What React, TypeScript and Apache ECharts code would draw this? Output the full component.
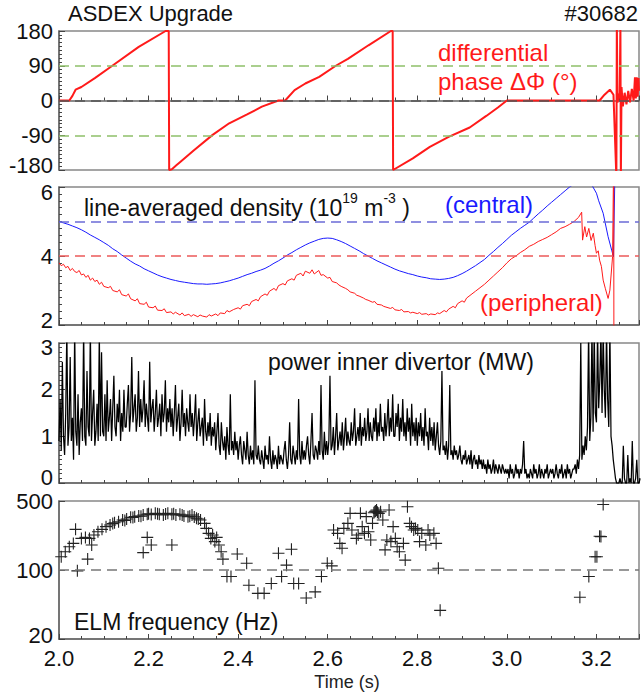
import React, { useEffect, useRef } from "react";
import * as echarts from "echarts";

const FONT = "'Liberation Sans', Arial, Helvetica, sans-serif";
const X_MIN = 2.0;
const X_MAX = 3.295;
const X_LABELS_INTERVAL = 0.2;

// Panel 1: differential phase (deg) vs time (s)
const phaseData: [number, number][] = [
  [2.0, 0], [2.023, 0], [2.03, 12], [2.037, 28], [2.05, 35], [2.08, 58], [2.119, 90], [2.178, 139],
  [2.238, 180], [2.245, 180], [2.246, -180], [2.252, -178], [2.262, -168], [2.27, -160], [2.3, -130],
  [2.343, -89], [2.38, -59], [2.42, -36], [2.453, -16], [2.49, 0], [2.505, 0], [2.526, 27], [2.55, 44],
  [2.581, 61], [2.618, 90], [2.645, 108], [2.691, 143], [2.741, 180], [2.745, 180], [2.746, -180],
  [2.79, -150], [2.828, -120], [2.87, -94], [2.917, -70], [2.954, -40], [2.98, -18], [3.0, 0],
  [3.207, 0], [3.218, 15], [3.23, 28], [3.238, 15], [3.2445, -200], [3.2455, 200], [3.247, -5],
  [3.252, 20], [3.2535, 200], [3.2545, -200], [3.256, 35], [3.259, -15], [3.263, 20], [3.267, -10],
  [3.271, 25], [3.275, -5], [3.279, 30], [3.283, 0], [3.286, 60], [3.288, 5], [3.290, 60],
  [3.292, 10], [3.294, 58], [3.295, 25],
];

// Panel 2: line-averaged density (1e19 m^-3)
const densityCentral: [number, number][] = [
  [2.0, 5.0], [2.01, 4.96], [2.02, 4.92], [2.03, 4.87], [2.04, 4.82], [2.05, 4.76], [2.06, 4.69], [2.07, 4.61],
  [2.08, 4.54], [2.09, 4.47], [2.1, 4.39], [2.11, 4.31], [2.12, 4.21], [2.13, 4.13], [2.14, 4.03], [2.15, 3.94],
  [2.16, 3.85], [2.17, 3.77], [2.18, 3.71], [2.19, 3.63], [2.2, 3.57], [2.21, 3.51], [2.22, 3.45], [2.23, 3.4],
  [2.24, 3.36], [2.25, 3.32], [2.26, 3.29], [2.27, 3.26], [2.28, 3.24], [2.29, 3.22], [2.3, 3.2], [2.31, 3.19],
  [2.32, 3.19], [2.33, 3.18], [2.34, 3.19], [2.35, 3.2], [2.36, 3.22], [2.37, 3.25], [2.38, 3.28], [2.39, 3.32],
  [2.4, 3.36], [2.41, 3.41], [2.42, 3.46], [2.43, 3.5], [2.44, 3.55], [2.45, 3.59], [2.46, 3.64], [2.47, 3.71],
  [2.48, 3.79], [2.49, 3.86], [2.5, 3.94], [2.51, 4.03], [2.52, 4.1], [2.53, 4.18], [2.54, 4.25], [2.55, 4.32],
  [2.56, 4.38], [2.57, 4.43], [2.58, 4.48], [2.59, 4.51], [2.6, 4.52], [2.61, 4.51], [2.62, 4.47], [2.63, 4.42],
  [2.64, 4.36], [2.65, 4.29], [2.66, 4.22], [2.67, 4.15], [2.68, 4.07], [2.69, 4.0], [2.7, 3.93], [2.71, 3.86],
  [2.72, 3.8], [2.73, 3.74], [2.74, 3.68], [2.75, 3.62], [2.76, 3.57], [2.77, 3.53], [2.78, 3.49], [2.79, 3.46],
  [2.8, 3.42], [2.81, 3.39], [2.82, 3.37], [2.83, 3.34], [2.84, 3.33], [2.85, 3.32], [2.86, 3.33], [2.87, 3.35],
  [2.88, 3.38], [2.89, 3.43], [2.9, 3.49], [2.91, 3.56], [2.92, 3.64], [2.93, 3.72], [2.94, 3.81], [2.95, 3.9],
  [2.96, 4.02], [2.97, 4.13], [2.98, 4.25], [2.99, 4.36], [3.0, 4.48], [3.01, 4.6], [3.02, 4.7], [3.03, 4.8],
  [3.04, 4.89], [3.05, 4.98], [3.06, 5.1], [3.07, 5.22], [3.08, 5.33], [3.09, 5.45], [3.1, 5.56], [3.11, 5.67],
  [3.12, 5.78], [3.13, 5.89], [3.14, 6.0], [3.15, 6.08], [3.16, 6.12], [3.17, 6.14], [3.18, 6.12], [3.19, 6.05],
  [3.2, 5.82], [3.205, 5.6], [3.215, 5.24], [3.226, 4.56], [3.234, 4.17], [3.238, 3.98], [3.242, 7.0],
];

const densityPeripheral: [number, number][] = [
  [2.0, 3.8], [2.005, 3.72], [2.01, 3.76], [2.015, 3.66], [2.02, 3.7], [2.025, 3.58], [2.03, 3.64], [2.035, 3.55],
  [2.04, 3.52], [2.045, 3.58], [2.05, 3.45], [2.055, 3.48], [2.06, 3.38], [2.065, 3.44], [2.07, 3.3], [2.075, 3.36],
  [2.08, 3.26], [2.085, 3.3], [2.09, 3.18], [2.095, 3.24], [2.1, 3.12], [2.11, 3.08], [2.115, 3.12], [2.12, 3.0],
  [2.13, 2.96], [2.135, 3.02], [2.14, 2.88], [2.15, 2.84], [2.155, 2.9], [2.16, 2.76], [2.17, 2.7], [2.175, 2.76],
  [2.18, 2.62], [2.19, 2.6], [2.195, 2.66], [2.2, 2.52], [2.21, 2.5], [2.215, 2.55], [2.22, 2.43], [2.23, 2.42],
  [2.235, 2.47], [2.24, 2.36], [2.25, 2.38], [2.255, 2.32], [2.26, 2.37], [2.27, 2.29], [2.275, 2.35], [2.28, 2.27],
  [2.29, 2.31], [2.295, 2.25], [2.3, 2.3], [2.31, 2.24], [2.315, 2.29], [2.32, 2.26], [2.33, 2.23], [2.335, 2.3],
  [2.34, 2.26], [2.35, 2.32], [2.355, 2.27], [2.36, 2.35], [2.37, 2.33], [2.375, 2.42], [2.38, 2.38], [2.39, 2.45],
  [2.4, 2.5], [2.405, 2.46], [2.41, 2.56], [2.42, 2.6], [2.425, 2.56], [2.43, 2.68], [2.44, 2.74], [2.445, 2.7],
  [2.45, 2.82], [2.46, 2.9], [2.465, 2.86], [2.47, 2.98], [2.48, 3.06], [2.485, 3.0], [2.49, 3.14], [2.5, 3.2],
  [2.505, 3.16], [2.51, 3.28], [2.52, 3.34], [2.525, 3.3], [2.53, 3.44], [2.54, 3.5], [2.545, 3.42], [2.55, 3.56],
  [2.56, 3.5], [2.565, 3.6], [2.57, 3.48], [2.58, 3.58], [2.585, 3.44], [2.59, 3.46], [2.6, 3.36], [2.605, 3.38],
  [2.61, 3.26], [2.62, 3.22], [2.625, 3.16], [2.63, 3.12], [2.64, 3.06], [2.645, 3.02], [2.65, 2.96], [2.66, 2.92],
  [2.665, 2.86], [2.67, 2.84], [2.68, 2.78], [2.685, 2.74], [2.69, 2.72], [2.7, 2.66], [2.705, 2.68], [2.71, 2.6],
  [2.72, 2.58], [2.725, 2.54], [2.73, 2.52], [2.74, 2.48], [2.745, 2.51], [2.75, 2.44], [2.76, 2.42], [2.765, 2.45],
  [2.77, 2.38], [2.78, 2.39], [2.785, 2.35], [2.79, 2.37], [2.8, 2.33], [2.805, 2.36], [2.81, 2.31], [2.82, 2.33],
  [2.825, 2.29], [2.83, 2.32], [2.84, 2.3], [2.845, 2.35], [2.85, 2.33], [2.86, 2.42], [2.865, 2.38], [2.87, 2.46],
  [2.88, 2.54], [2.885, 2.5], [2.89, 2.62], [2.9, 2.7], [2.905, 2.66], [2.91, 2.78], [2.92, 2.88], [2.93, 2.98],
  [2.94, 3.08], [2.95, 3.18], [2.96, 3.3], [2.97, 3.42], [2.98, 3.54], [2.99, 3.66], [3.0, 3.8], [3.01, 3.92],
  [3.02, 4.0], [3.03, 4.1], [3.04, 4.18], [3.05, 4.28], [3.06, 4.34], [3.07, 4.42], [3.08, 4.48], [3.09, 4.54],
  [3.1, 4.62], [3.11, 4.7], [3.12, 4.8], [3.13, 4.85], [3.14, 4.92], [3.15, 5.0], [3.16, 5.12], [3.167, 5.27],
  [3.169, 4.46], [3.174, 4.85], [3.178, 4.55], [3.183, 4.8], [3.188, 4.45], [3.193, 4.66], [3.197, 4.3],
  [3.2, 4.08], [3.204, 4.15], [3.207, 3.88], [3.211, 3.7], [3.215, 3.3], [3.22, 3.05], [3.226, 2.77],
  [3.23, 3.01], [3.236, 3.98], [3.2385, 7.0], [3.239, 1.0],
];

// Panel 3: power to inner divertor (MW), sampled every 2.5 ms from 2.000 s
const powerStart = 2.0;
const powerStep = 0.0025;
const powerValues: number[] = [
  0.9, 1.8, 0.7, 2.6, 1.0, 0.6, 1.5, 3.3, 0.8, 1.2, 2.7, 0.9, 1.4, 0.5, 3.3, 1.1, 0.8, 1.9, 0.6, 1.3,
  1.6, 0.9, 3.3, 1.0, 0.8, 2.4, 1.2, 1.0, 3.3, 0.9, 1.5, 2.0, 0.8, 1.1, 1.7, 0.9, 3.2, 1.0, 2.8, 1.1,
  1.0, 1.9, 0.9, 2.2, 1.1, 1.4, 1.8, 0.9, 1.6, 2.3, 1.2, 1.0, 1.7, 1.3, 2.0, 0.9, 1.5, 1.1, 2.0, 1.2,
  1.2, 1.7, 2.1, 1.1, 1.5, 2.7, 1.3, 1.6, 1.9, 1.1, 1.4, 2.4, 1.2, 1.8, 1.3, 1.6, 2.2, 1.2, 1.7, 1.4,
  1.1, 2.6, 1.3, 1.6, 1.8, 1.1, 1.5, 2.0, 1.2, 1.4, 1.7, 1.0, 1.9, 1.3, 1.5, 2.2, 1.1, 1.6, 1.3, 1.8,
  1.2, 1.6, 1.0, 1.5, 2.1, 1.1, 1.4, 1.7, 0.9, 1.3, 2.0, 1.2, 1.5, 1.0, 1.6, 1.3, 1.1, 1.9, 1.2, 1.5,
  1.0, 1.4, 1.9, 0.9, 1.3, 1.6, 1.0, 1.2, 1.4, 0.8, 1.8, 1.1, 0.9, 1.3, 1.0, 1.5, 0.8, 1.2, 1.0, 1.3,
  0.7, 1.1, 1.5, 0.8, 0.6, 1.3, 0.9, 0.7, 1.0, 0.5, 1.2, 0.8, 0.6, 1.9, 0.7, 0.9, 0.6, 1.1, 0.7, 0.9,
  0.5, 0.8, 1.0, 0.6, 0.4, 0.9, 0.7, 0.5, 1.1, 0.6, 0.4, 0.8, 0.5, 0.7, 0.4, 2.2, 0.6, 0.5, 0.8, 0.5,
  0.4, 0.7, 0.5, 0.3, 0.8, 0.5, 0.6, 0.4, 1.0, 0.5, 0.3, 0.7, 0.4, 0.6, 0.5, 0.3, 0.8, 0.4, 0.6, 0.5,
  0.4, 0.7, 0.9, 0.5, 0.3, 0.6, 1.3, 0.5, 0.4, 0.8, 0.6, 0.4, 0.7, 0.5, 1.8, 0.6, 0.4, 0.9, 0.5, 0.7,
  0.5, 0.8, 1.0, 0.6, 0.4, 0.9, 1.5, 0.6, 0.5, 0.8, 0.7, 0.5, 0.9, 0.6, 2.1, 0.7, 0.5, 1.1, 0.6, 0.9,
  0.6, 0.9, 2.3, 0.7, 0.8, 1.2, 0.6, 1.0, 1.5, 0.7, 0.9, 1.1, 0.8, 1.3, 0.7, 1.0, 1.4, 0.8, 1.1, 0.9,
  0.8, 1.3, 0.9, 1.1, 1.6, 0.8, 1.0, 1.2, 0.9, 1.5, 0.8, 1.2, 1.0, 1.4, 0.9, 1.1, 1.6, 0.9, 1.3, 1.0,
  0.9, 1.4, 1.1, 1.6, 0.9, 1.3, 1.0, 1.7, 1.1, 1.2, 0.9, 1.5, 1.0, 1.3, 1.8, 1.0, 1.4, 1.1, 1.9, 1.0,
  1.0, 1.5, 1.2, 1.7, 0.9, 1.4, 1.1, 1.8, 1.0, 1.3, 0.9, 1.6, 1.1, 1.4, 0.8, 1.7, 1.0, 1.3, 0.9, 1.4,
  0.8, 1.3, 1.0, 1.5, 0.9, 1.2, 0.8, 1.6, 1.0, 1.1, 0.7, 1.4, 0.9, 1.2, 0.8, 1.3, 0.7, 1.0, 1.3, 0.8,
  0.6, 0.9, 2.4, 0.7, 0.8, 0.6, 0.9, 0.5, 0.8, 2.1, 0.6, 0.7, 0.5, 0.8, 0.6, 0.7, 0.5, 0.6, 0.8, 0.5,
  0.4, 0.6, 0.5, 0.7, 0.4, 0.5, 0.6, 0.4, 0.7, 0.3, 0.5, 0.6, 0.4, 0.5, 0.3, 0.6, 0.4, 0.5, 0.3, 0.5,
  0.3, 0.4, 0.2, 0.5, 0.3, 0.4, 0.2, 0.3, 0.5, 0.2, 0.4, 0.3, 0.2, 0.4, 0.3, 0.2, 0.4, 0.3, 0.2, 0.3,
  0.2, 0.3, 0.1, 0.4, 0.2, 0.3, 0.1, 0.2, 0.4, 0.2, 0.3, 0.1, 0.3, 0.2, 0.4, 0.9, 0.2, 0.3, 0.1, 0.2,
  0.1, 0.3, 0.2, 0.1, 0.4, 0.2, 0.3, 0.1, 0.2, 0.4, 0.1, 0.3, 0.2, 0.1, 0.3, 0.2, 0.4, 0.1, 0.2, 0.3,
  0.2, 0.3, 0.1, 0.2, 0.4, 0.2, 0.1, 0.3, 0.2, 0.4, 0.1, 0.2, 0.3, 0.1, 0.4, 0.2, 0.3, 0.1, 0.2, 0.3,
  0.3, 0.4, 0.2, 0.5, 0.3, 0.6, 3.0, 0.5, 0.8, 0.6, 1.0, 0.7, 1.2, 3.3, 0.9, 1.4, 3.3, 1.1, 3.3, 1.5,
  1.3, 3.3, 1.6, 2.2, 3.3, 1.5, 3.3, 2.0, 1.4, 3.3, 1.8, 1.2, 3.3, 1.0, 0.8, 0.5, 0.3, 0.1, 0.0, 0.0,
  0.0, 0.1, 0.0, 0.0, 0.8, 0.1, 0.0, 0.0, 0.6, 0.0, 0.1, 0.0, 0.9, 0.0, 0.0, 0.1, 0.5, 0.0, 0.0, 0.1,
];

// Panel 4: ELM frequency (Hz)
const elmFrequency: [number, number][] = [
  [2.005, 136], [2.014, 153], [2.023, 172], [2.032, 186], [2.037, 258], [2.041, 98], [2.05, 209],
  [2.059, 214], [2.064, 129], [2.068, 209], [2.073, 179],
  [2.078, 226], [2.087, 244], [2.096, 258], [2.105, 275], [2.114, 286], [2.12, 295], [2.124, 301],
  [2.133, 308], [2.142, 321], [2.147, 318], [2.151, 329], [2.16, 342], [2.165, 340], [2.169, 347],
  [2.178, 352], [2.183, 350], [2.188, 361], [2.197, 367], [2.2, 372], [2.206, 364], [2.215, 375],
  [2.22, 372], [2.224, 367], [2.233, 361], [2.238, 370], [2.243, 375], [2.252, 367], [2.256, 372],
  [2.261, 361], [2.27, 367], [2.275, 360], [2.279, 352], [2.288, 347], [2.292, 350], [2.297, 361],
  [2.302, 345], [2.307, 334], [2.311, 328], [2.316, 321], [2.325, 297], [2.329, 264], [2.334, 235],
  [2.339, 209], [2.343, 226], [2.348, 194], [2.352, 214],
  [2.188, 150], [2.197, 214], [2.206, 179], [2.252, 179],
  [2.357, 179], [2.362, 153], [2.366, 129], [2.375, 86], [2.384, 86], [2.398, 145], [2.419, 117],
  [2.424, 70], [2.444, 58], [2.458, 58], [2.474, 73], [2.49, 148], [2.497, 86], [2.508, 112],
  [2.519, 162], [2.524, 73], [2.535, 73], [2.552, 52], [2.572, 60], [2.586, 86], [2.599, 117], [2.609, 110],
  [2.613, 254], [2.622, 235], [2.627, 186], [2.632, 166], [2.636, 264], [2.645, 297], [2.65, 375],
  [2.654, 254], [2.664, 209], [2.668, 226], [2.673, 375], [2.677, 275], [2.682, 235], [2.686, 347],
  [2.691, 244], [2.696, 201], [2.7, 297], [2.703, 380], [2.705, 389], [2.707, 395], [2.709, 406],
  [2.711, 385], [2.714, 375], [2.718, 389], [2.723, 321], [2.728, 160], [2.732, 201], [2.737, 406],
  [2.741, 194], [2.746, 275], [2.751, 209], [2.755, 172], [2.76, 153], [2.769, 186], [2.773, 126],
  [2.778, 438], [2.783, 297], [2.787, 275], [2.792, 254], [2.796, 264], [2.801, 254], [2.805, 194],
  [2.81, 235], [2.819, 179], [2.824, 254], [2.828, 226], [2.837, 235], [2.842, 186], [2.847, 104],
  [2.851, 39],
  [3.163, 53], [3.183, 86], [3.197, 136], [3.201, 136], [3.207, 220], [3.21, 218], [3.215, 460],
];

const phaseGuides = [
  { value: 90, color: "#8fc06a" },
  { value: 0, color: "#555555" },
  { value: -90, color: "#8fc06a" },
];
const centralGuide = 5;
const peripheralGuide = 4;
const elmGuide = 100;

const GRIDS = [
  { top: 31, height: 139 },
  { top: 187, height: 138 },
  { top: 343, height: 140 },
  { top: 501, height: 138 },
];

const AXIS_COLOR = "#666666";

function endLabel(shifts: Record<string, number>) {
  return (v: number) => {
    const key = String(Math.round(v * 1000) / 1000);
    const s = shifts[key];
    if (s === undefined) return key;
    return s > 0 ? `{dn${s}|${key}}` : `{up${-s}|${key}}`;
  };
}

function richFor(shifts: Record<string, number>) {
  const rich: Record<string, any> = {};
  Object.values(shifts).forEach((s) => {
    const base = { fontSize: 22, fontFamily: FONT, color: "#111" };
    if (s > 0) rich[`dn${s}`] = { ...base, padding: [2 * s, 0, 0, 0] };
    else rich[`up${-s}`] = { ...base, padding: [0, 0, -2 * s, 0] };
  });
  return rich;
}

function yAxisBase(gridIndex: number, shifts: Record<string, number>) {
  return {
    gridIndex,
    axisLine: { show: true, lineStyle: { color: AXIS_COLOR, width: 1.5 } },
    axisTick: { show: true, inside: true, length: 6, lineStyle: { color: "#444", width: 1 } },
    minorTick: { show: true, splitNumber: 10, length: 3, lineStyle: { color: "#444", width: 1 } },
    splitLine: { show: false },
    axisLabel: {
      show: true,
      margin: 6,
      fontSize: 22,
      fontFamily: FONT,
      color: "#111",
      formatter: endLabel(shifts),
      rich: richFor(shifts),
    },
  };
}

function xAxisFor(gridIndex: number) {
  return {
    type: "value",
    gridIndex,
    min: X_MIN,
    max: X_MAX,
    interval: X_LABELS_INTERVAL,
    axisLine: { show: true, lineStyle: { color: AXIS_COLOR, width: 1.5 } },
    axisTick: { show: true, inside: true, length: 5, lineStyle: { color: "#444", width: 1 } },
    minorTick: { show: true, splitNumber: 4, length: 3, lineStyle: { color: "#444", width: 1 } },
    splitLine: { show: false },
    axisLabel: {
      show: gridIndex === 3,
      margin: 8,
      fontSize: 22,
      fontFamily: FONT,
      color: "#111",
      showMaxLabel: false,
      formatter: (v: number) => v.toFixed(1),
    },
  };
}

const PLUS =
  "path://M0,5.45 L12,5.45 L12,6.55 L0,6.55 Z M5.45,0 L6.55,0 L6.55,12 L5.45,12 Z";

function guideLine(value: number, color: string) {
  return { yAxis: value, lineStyle: { color, type: [10, 6], width: 1.5 } };
}

function text(x: number, y: number, str: string, size: number, color: string, align = "left") {
  return {
    type: "text",
    x,
    y,
    silent: true,
    style: {
      text: str,
      fill: color,
      fontSize: size,
      fontFamily: FONT,
      align,
      verticalAlign: "middle",
      textAlign: align,
      textVerticalAlign: "middle",
    },
  };
}

export default function App() {
  const ref = useRef<HTMLDivElement>(null);

  useEffect(() => {
    if (!ref.current) return;
    const chart = echarts.init(ref.current, undefined, { renderer: "svg" });

    const powerData = powerValues.map((v, i) => [powerStart + i * powerStep, v]);

    const option: any = {
      animation: false,
      backgroundColor: "#ffffff",
      grid: GRIDS.map((g) => ({
        left: 59,
        right: 3,
        top: g.top,
        height: g.height,
        show: true,
        borderColor: "#888888",
        borderWidth: 1.5,
        containLabel: false,
      })),
      xAxis: [0, 1, 2, 3].map((i) => xAxisFor(i)),
      yAxis: [
        { type: "value", min: -180, max: 180, interval: 90, ...yAxisBase(0, { "-180": -5 }), minorTick: { show: true, splitNumber: 9, length: 3, lineStyle: { color: "#444" } } },
        { type: "value", min: 2, max: 6, interval: 2, ...yAxisBase(1, { "6": 5, "2": -5 }) },
        { type: "value", min: 0, max: 3, interval: 1, ...yAxisBase(2, { "3": 4, "0": -6 }) },
        { type: "log", logBase: 10, min: 20, max: 500, ...yAxisBase(3, { "20": -4 }), minorTick: { show: false } },
      ],
      series: [
        {
          type: "line",
          xAxisIndex: 0,
          yAxisIndex: 0,
          data: phaseData,
          showSymbol: false,
          clip: true,
          lineStyle: { color: "#ff1a1a", width: 2 },
          markLine: {
            silent: true,
            symbol: "none",
            label: { show: false },
            data: phaseGuides.map((g) => guideLine(g.value, g.color)),
          },
          z: 3,
        },
        {
          type: "line",
          xAxisIndex: 1,
          yAxisIndex: 1,
          data: densityCentral,
          showSymbol: false,
          clip: true,
          lineStyle: { color: "#1a1aff", width: 1 },
          markLine: {
            silent: true,
            symbol: "none",
            label: { show: false },
            data: [guideLine(centralGuide, "#6b6bd6")],
          },
        },
        {
          type: "line",
          xAxisIndex: 1,
          yAxisIndex: 1,
          data: densityPeripheral,
          showSymbol: false,
          clip: true,
          lineStyle: { color: "#ff1a1a", width: 1 },
          markLine: {
            silent: true,
            symbol: "none",
            label: { show: false },
            data: [guideLine(peripheralGuide, "#ec5a5a")],
          },
        },
        {
          type: "line",
          xAxisIndex: 2,
          yAxisIndex: 2,
          data: powerData,
          showSymbol: false,
          clip: true,
          lineStyle: { color: "#000000", width: 1.25 },
        },
        {
          type: "scatter",
          xAxisIndex: 3,
          yAxisIndex: 3,
          data: elmFrequency,
          symbol: PLUS,
          symbolSize: 12,
          clip: true,
          itemStyle: { color: "#222222", opacity: 1 },
          markLine: {
            silent: true,
            symbol: "none",
            label: { show: false },
            data: [guideLine(elmGuide, "#777777")],
          },
        },
      ],
      graphic: [
        text(68, 13, "ASDEX Upgrade", 22, "#111"),
        text(638, 13, "#30682", 22, "#111", "right"),
        text(438, 52, "differential", 24, "#ff1a1a"),
        text(438, 81, "phase ΔΦ (°)", 24, "#ff1a1a"),
        {
          type: "text",
          x: 84,
          y: 205,
          silent: true,
          style: {
            text: "{a|line-averaged density (10}{s|19}{a| m}{s|-3}{a| )}",
            verticalAlign: "middle",
            textVerticalAlign: "middle",
            rich: {
              a: { fontSize: 23, fontFamily: FONT, fill: "#111", color: "#111", lineHeight: 28, verticalAlign: "bottom" },
              s: { fontSize: 14, fontFamily: FONT, fill: "#111", color: "#111", lineHeight: 16, verticalAlign: "top" },
            },
          },
        },
        text(445, 204, "(central)", 24, "#1a1aff"),
        text(480, 302, "(peripheral)", 24, "#ff1a1a"),
        text(268, 362, "power inner divertor (MW)", 23, "#111"),
        text(74, 622, "ELM frequency (Hz)", 23, "#111"),
        text(347, 682, "Time (s)", 18, "#222", "center"),
      ],
    };

    chart.setOption(option);
    return () => chart.dispose();
  }, []);

  return (
    <div
      ref={ref}
      style={{ position: "absolute", left: 0, top: 0, width: 642, height: 696, background: "#fff" }}
    />
  );
}
